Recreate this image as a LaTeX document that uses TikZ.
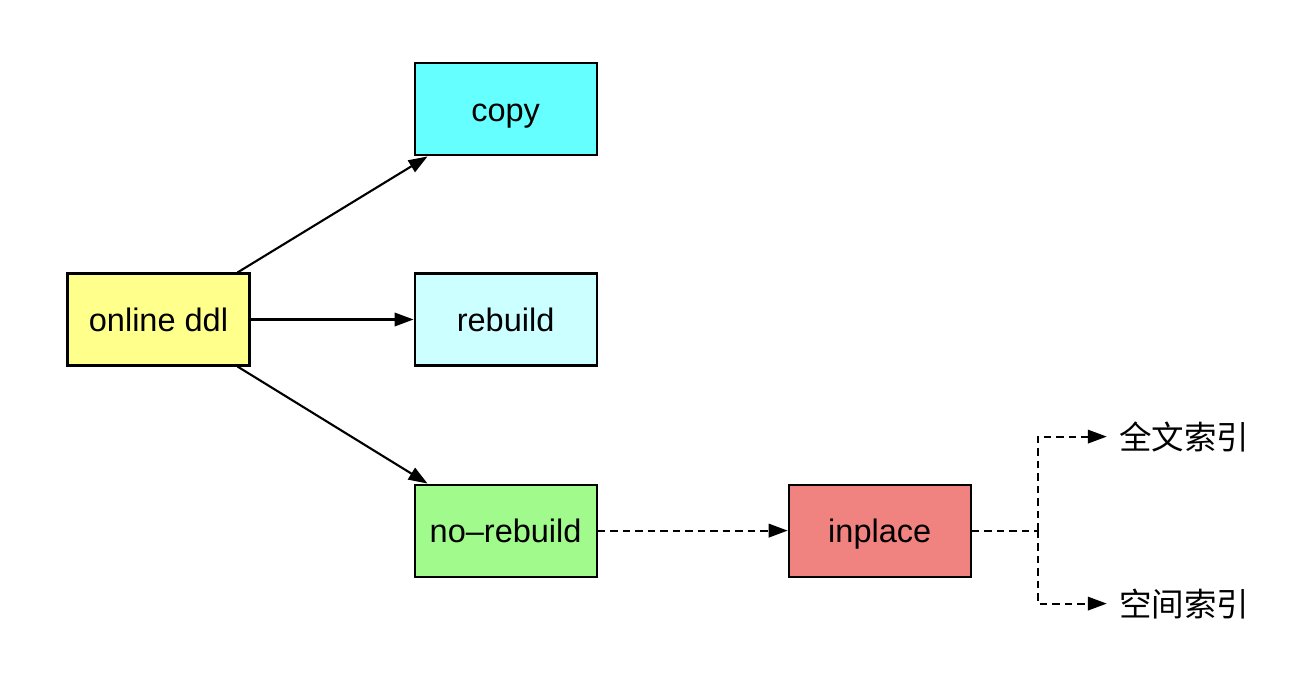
\documentclass[tikz,border=0pt]{standalone}
\usepackage{fontspec}
\setmainfont{Liberation Sans}
\newfontfamily\cjk{Noto Sans CJK SC}
\usetikzlibrary{positioning,arrows.meta}
\definecolor{ddlyellow}{RGB}{255,255,140}
\definecolor{copycyan}{RGB}{102,255,255}
\definecolor{rebuildcyan}{RGB}{204,255,255}
\definecolor{norebuildgreen}{RGB}{160,250,140}
\definecolor{inplacered}{RGB}{240,130,128}
\tikzstyle{arrow} = [line width=1.2pt, -{Triangle[length=0.38cm,width=0.27cm]}]
\tikzstyle{dasharrow} = [arrow, dash pattern=on 0.15cm off 0.1cm]
\tikzstyle{ddlbox} = [
    rectangle,                 % Shape
    draw=black,                % Border color
    line width=1.2pt,          % Border width
    minimum width=3.64cm,      % Width
    minimum height=1.84cm,     % Height
    text height=14pt,          % Common baseline
    text depth=0pt,
    text centered,             % Centered text
    font=\fontsize{18.5}{22}\selectfont
]
\tikzstyle{indexlabel} = [inner xsep=0.24cm, font=\cjk\fontsize{18.5}{22}\selectfont]
\begin{document}
\begin{tikzpicture}
		\useasboundingbox (0,0) rectangle (25.96,13.8);

		% Source
		\node[ddlbox, fill=ddlyellow] (ddl) at (3.17,7.41) {online ddl};

		% Algorithms
		\node[ddlbox, fill=rebuildcyan, right=3.26cm of ddl] (rebuild) {rebuild};
		\node[ddlbox, fill=copycyan, above=2.32cm of rebuild] (copy) {copy};
		\node[ddlbox, fill=norebuildgreen, below=2.34cm of rebuild] (norebuild) {no{\textendash}rebuild};
		\node[ddlbox, fill=inplacered, right=3.8cm of norebuild] (inplace) {inplace};

		% Index types
		\coordinate[right=1.32cm of inplace] (split);
		\node[indexlabel, right=2.7cm of inplace, yshift=1.88cm, anchor=west] (fulltext) {全文索引};
		\node[indexlabel, right=2.7cm of inplace, yshift=-1.46cm, anchor=west] (spatial) {空间索引};

		% Arrows
		\draw[arrow] ([xshift=-0.26cm]ddl.north east) -- ([xshift=0.28cm]copy.south west);
		\draw[arrow] (ddl) -- (rebuild);
		\draw[arrow] ([xshift=-0.26cm]ddl.south east) -- ([xshift=0.28cm]norebuild.north west);

		\draw[dasharrow] (norebuild) -- (inplace);
		\draw[dash pattern=on 0.15cm off 0.1cm, line width=1.2pt] (inplace.east) -- (split);
		\draw[dasharrow] (split) |- (fulltext);
		\draw[dasharrow] (split) |- (spatial);
	\end{tikzpicture}
\end{document}
